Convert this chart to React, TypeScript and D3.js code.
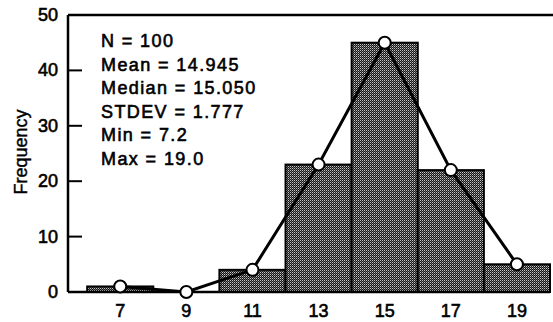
import React from "react";
import * as d3 from "d3";

const binCenters = [7, 9, 11, 13, 15, 17, 19];
const frequencies = [1, 0, 4, 23, 45, 22, 5];
const yTicks = [0, 10, 20, 30, 40, 50];
const xTickLabels = ["7", "9", "11", "13", "15", "17", "19"];
const statsLines = [
  "N = 100",
  "Mean = 14.945",
  "Median = 15.050",
  "STDEV = 1.777",
  "Min = 7.2",
  "Max = 19.0",
];
const binWidth = 2;

const W = 553;
const H = 322;
const left = 68;
const right = 550;
const top = 15;
const bottom = 292;

export default function App() {
  const x = d3.scaleLinear().domain([5.42, 20]).range([left, right]);
  const y = d3.scaleLinear().domain([0, 50]).range([bottom, top]);
  const pts = binCenters.map((c, i) => [x(c), y(frequencies[i])] as [number, number]);
  const line = d3.line()(pts) || "";
  const font = "'Liberation Sans', Arial, Helvetica, sans-serif";
  return (
    <svg
      width={W}
      height={H}
      style={{ position: "absolute", left: 0, top: 0, background: "#fff" }}
      fontFamily={font}
    >
      <defs>
        <pattern id="dots" width="2" height="2" patternUnits="userSpaceOnUse">
          <rect x="0" y="0" width="2" height="2" fill="#161616" />
          <rect x="0" y="0" width="1" height="1" fill="#c8c8c8" />
          <rect x="1" y="1" width="1" height="1" fill="#6a6a6a" />
        </pattern>
      </defs>
      {binCenters.map((c, i) => {
        const x0 = x(c - binWidth / 2);
        const x1 = x(c + binWidth / 2);
        const y0 = y(frequencies[i]);
        return (
          <rect
            key={i}
            x={x0}
            y={y0}
            width={x1 - x0}
            height={bottom - y0}
            fill="url(#dots)"
            stroke="#000"
            strokeWidth={2}
          />
        );
      })}
      {/* axes */}
      <line x1={left} x2={W} y1={top} y2={top} stroke="#000" strokeWidth={2.5} />
      <line x1={left} x2={left} y1={top} y2={bottom} stroke="#000" strokeWidth={2.5} />
      <line x1={left} x2={right} y1={bottom} y2={bottom} stroke="#000" strokeWidth={2.5} />
      {yTicks.map((t) => (
        <g key={t}>
          {t > 0 && t < 50 && (
            <line x1={left} x2={left + 14} y1={y(t)} y2={y(t)} stroke="#000" strokeWidth={2} />
          )}
          <text
            x={58}
            y={y(t)}
            textAnchor="end"
            dominantBaseline="central"
            fontSize={18}
            stroke="#000"
            strokeWidth={0.6}
          >
            {t}
          </text>
        </g>
      ))}
      {binCenters.map((c, i) => (
        <text
          key={c}
          x={x(c)}
          y={317}
          textAnchor="middle"
          fontSize={18}
          stroke="#000"
          strokeWidth={0.6}
        >
          {xTickLabels[i]}
        </text>
      ))}
      <text
        transform={`translate(27,152) rotate(-90)`}
        textAnchor="middle"
        fontSize={18}
        stroke="#000"
        strokeWidth={0.4}
      >
        Frequency
      </text>
      {/* frequency polygon */}
      <path d={line} fill="none" stroke="#000" strokeWidth={3} />
      {pts.map((p, i) => (
        <circle key={i} cx={p[0]} cy={p[1]} r={6} fill="#fff" stroke="#000" strokeWidth={2} />
      ))}
      {statsLines.map((s, i) => (
        <text
          key={i}
          x={101}
          y={47 + i * 23.5}
          fontSize={18}
          letterSpacing={1.4}
          stroke="#000"
          strokeWidth={0.6}
        >
          {s}
        </text>
      ))}
    </svg>
  );
}
